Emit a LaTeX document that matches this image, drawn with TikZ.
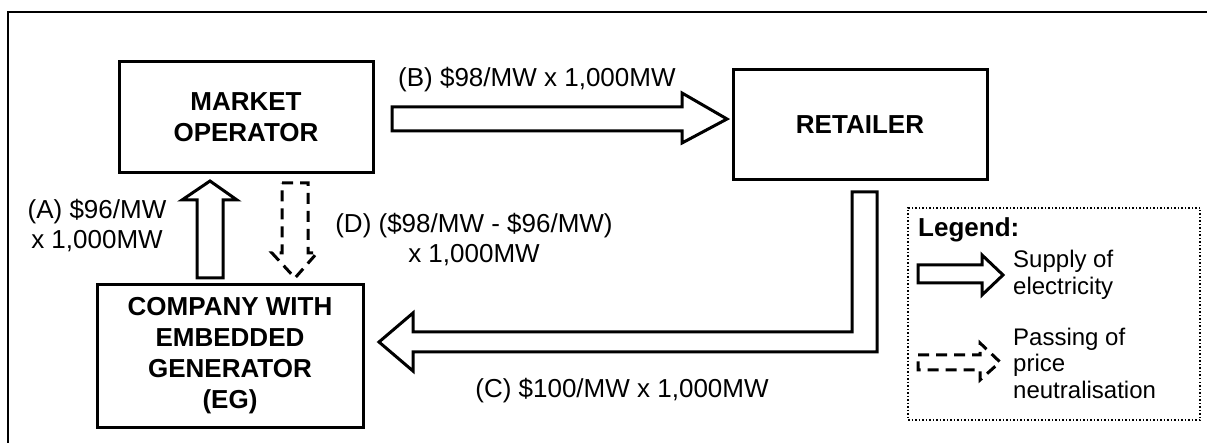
\documentclass[tikz,border=0pt]{standalone}
\usepackage{fontspec}
\setmainfont{Liberation Sans}
\begin{document}
\begin{tikzpicture}[x=1pt,y=-1pt,
  box/.style={draw,line width=3pt,inner sep=0pt,align=center,font=\fontsize{26}{31}\selectfont\bfseries},
  lbl/.style={inner sep=0pt,align=center,font=\fontsize{26}{30}\selectfont},
  leg/.style={inner sep=0pt,align=left,font=\fontsize{24}{26.5}\selectfont},
  blockarrow/.style={draw,line width=3pt,fill=white,line join=miter},
  dasharrow/.style={draw,line width=3pt,fill=white,dash pattern=on 11pt off 7pt}]
\useasboundingbox (0,0) rectangle (1207,443);
\clip (0,0) rectangle (1207,443);
% outer frame (only top and left visible)
\draw[line width=2pt] (8,12) rectangle (1220,460);
% boxes
\node[box,minimum width=254pt,minimum height=111pt] (mo) at (246,117.5) {MARKET\\OPERATOR};
\node[box,minimum width=254pt,minimum height=110pt] (ret) at (860,125) {RETAILER};
\node[box,minimum width=266pt,minimum height=142pt] (co) at (230,356) {COMPANY WITH\\EMBEDDED\\GENERATOR\\(EG)};
% legend box
\node[draw,dotted,line width=1.5pt,minimum width=292pt,minimum height=212pt,inner sep=0pt] (legbox) at (1054,314) {};
% arrow B
\draw[blockarrow] (392,107) -- (682,107) -- (682,93) -- (727,119) -- (682,143) -- (682,131) -- (392,131) -- cycle;
% arrow A
\draw[blockarrow] (197,278) -- (197,200) -- (182,200) -- (210,181) -- (237,200) -- (223,200) -- (223,278) -- cycle;
% arrow D dashed
\draw[dasharrow] (282,183) -- (308,183) -- (308,253) -- (317,253) -- (295,278) -- (272,253) -- (282,253) -- cycle;
% arrow C
\draw[blockarrow] (852,192) -- (877,192) -- (877,352) -- (413,352) -- (413,371) -- (379,342) -- (413,313) -- (413,332) -- (852,332) -- cycle;
% labels
\node[lbl,anchor=base west] (lb) at (398,87) {(B) \$98/MW x 1,000MW};
\node[lbl] (la) at (97,226) {(A) \$96/MW\\x 1,000MW};
\node[lbl] (ld) at (474,240) {(D) (\$98/MW - \$96/MW)\\x 1,000MW};
\node[lbl,anchor=base] (lc) at (622,397) {(C) \$100/MW x 1,000MW};
% legend
\node[inner sep=0pt,anchor=west,font=\fontsize{26}{30}\selectfont\bfseries] (legt) at (918,230) {Legend:};
\draw[blockarrow] (918,265) -- (982,265) -- (982,255) -- (1003,275) -- (982,295) -- (982,283) -- (918,283) -- cycle;
\node[leg,anchor=west] (l1) at (1013,275) {Supply of\\electricity};
\draw[dasharrow] (918,355) -- (980,355) -- (980,343) -- (1000,362) -- (980,380) -- (980,370) -- (918,370) -- cycle;
\node[leg,anchor=west] (l2) at (1013,363) {Passing of\\price\\neutralisation};
\end{tikzpicture}
\end{document}
